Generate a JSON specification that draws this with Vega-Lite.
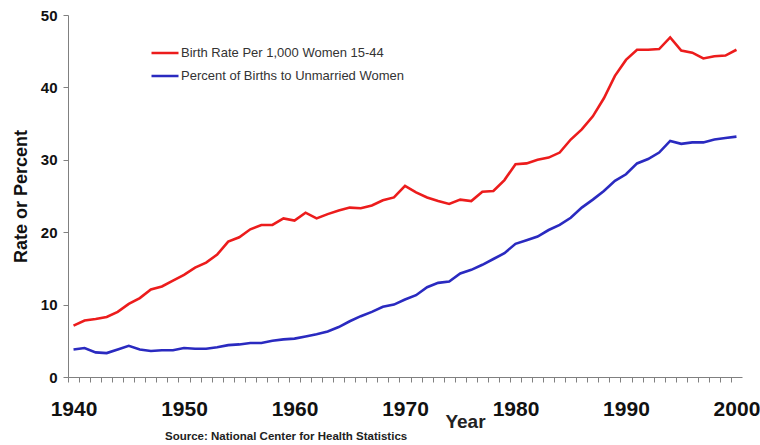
{
  "$schema": "https://vega.github.io/schema/vega-lite/v6.json",
  "autosize": "none",
  "width": 674,
  "height": 362,
  "padding": {"left": 68, "top": 15, "right": 18, "bottom": 68},
  "background": "white",
  "title": {
    "text": "Source: National Center for Health Statistics",
    "orient": "bottom",
    "anchor": "start",
    "frame": "group",
    "font": "Liberation Sans",
    "fontSize": 11.5,
    "fontWeight": "bold",
    "color": "#222222",
    "dx": 97,
    "offset": 0
  },
  "data": {
    "values": [
      {"year": 1940, "rate": 7.1, "pct": 3.8},
      {"year": 1941, "rate": 7.8, "pct": 4.0},
      {"year": 1942, "rate": 8.0, "pct": 3.4},
      {"year": 1943, "rate": 8.3, "pct": 3.3},
      {"year": 1944, "rate": 9.0, "pct": 3.8},
      {"year": 1945, "rate": 10.1, "pct": 4.3},
      {"year": 1946, "rate": 10.9, "pct": 3.8},
      {"year": 1947, "rate": 12.1, "pct": 3.6},
      {"year": 1948, "rate": 12.5, "pct": 3.7},
      {"year": 1949, "rate": 13.3, "pct": 3.7},
      {"year": 1950, "rate": 14.1, "pct": 4.0},
      {"year": 1951, "rate": 15.1, "pct": 3.9},
      {"year": 1952, "rate": 15.8, "pct": 3.9},
      {"year": 1953, "rate": 16.9, "pct": 4.1},
      {"year": 1954, "rate": 18.7, "pct": 4.4},
      {"year": 1955, "rate": 19.3, "pct": 4.5},
      {"year": 1956, "rate": 20.4, "pct": 4.7},
      {"year": 1957, "rate": 21.0, "pct": 4.7},
      {"year": 1958, "rate": 21.0, "pct": 5.0},
      {"year": 1959, "rate": 21.9, "pct": 5.2},
      {"year": 1960, "rate": 21.6, "pct": 5.3},
      {"year": 1961, "rate": 22.7, "pct": 5.6},
      {"year": 1962, "rate": 21.9, "pct": 5.9},
      {"year": 1963, "rate": 22.5, "pct": 6.3},
      {"year": 1964, "rate": 23.0, "pct": 6.9},
      {"year": 1965, "rate": 23.4, "pct": 7.7},
      {"year": 1966, "rate": 23.3, "pct": 8.4},
      {"year": 1967, "rate": 23.7, "pct": 9.0},
      {"year": 1968, "rate": 24.4, "pct": 9.7},
      {"year": 1969, "rate": 24.8, "pct": 10.0},
      {"year": 1970, "rate": 26.4, "pct": 10.7},
      {"year": 1971, "rate": 25.5, "pct": 11.3},
      {"year": 1972, "rate": 24.8, "pct": 12.4},
      {"year": 1973, "rate": 24.3, "pct": 13.0},
      {"year": 1974, "rate": 23.9, "pct": 13.2},
      {"year": 1975, "rate": 24.5, "pct": 14.3},
      {"year": 1976, "rate": 24.3, "pct": 14.8},
      {"year": 1977, "rate": 25.6, "pct": 15.5},
      {"year": 1978, "rate": 25.7, "pct": 16.3},
      {"year": 1979, "rate": 27.2, "pct": 17.1},
      {"year": 1980, "rate": 29.4, "pct": 18.4},
      {"year": 1981, "rate": 29.5, "pct": 18.9},
      {"year": 1982, "rate": 30.0, "pct": 19.4},
      {"year": 1983, "rate": 30.3, "pct": 20.3},
      {"year": 1984, "rate": 31.0, "pct": 21.0},
      {"year": 1985, "rate": 32.8, "pct": 22.0},
      {"year": 1986, "rate": 34.2, "pct": 23.4},
      {"year": 1987, "rate": 36.0, "pct": 24.5},
      {"year": 1988, "rate": 38.5, "pct": 25.7},
      {"year": 1989, "rate": 41.6, "pct": 27.1},
      {"year": 1990, "rate": 43.8, "pct": 28.0},
      {"year": 1991, "rate": 45.2, "pct": 29.5},
      {"year": 1992, "rate": 45.2, "pct": 30.1},
      {"year": 1993, "rate": 45.3, "pct": 31.0},
      {"year": 1994, "rate": 46.9, "pct": 32.6},
      {"year": 1995, "rate": 45.1, "pct": 32.2},
      {"year": 1996, "rate": 44.8, "pct": 32.4},
      {"year": 1997, "rate": 44.0, "pct": 32.4},
      {"year": 1998, "rate": 44.3, "pct": 32.8},
      {"year": 1999, "rate": 44.4, "pct": 33.0},
      {"year": 2000, "rate": 45.2, "pct": 33.2}
    ]
  },
  "transform": [{"fold": ["rate", "pct"], "as": ["series", "value"]}],
  "mark": {"type": "line", "strokeWidth": 2.6, "interpolate": "linear"},
  "encoding": {
    "x": {
      "field": "year",
      "type": "quantitative",
      "scale": {"domain": [1939.5, 2000.5], "nice": false, "zero": false},
      "axis": {
        "values": [1940,1941,1942,1943,1944,1945,1946,1947,1948,1949,1950,1951,1952,1953,1954,1955,1956,1957,1958,1959,1960,1961,1962,1963,1964,1965,1966,1967,1968,1969,1970,1971,1972,1973,1974,1975,1976,1977,1978,1979,1980,1981,1982,1983,1984,1985,1986,1987,1988,1989,1990,1991,1992,1993,1994,1995,1996,1997,1998,1999,2000,2001],
        "tickOffset": -5.52,
        "labelOffset": 5.52,
        "format": "d",
        "labelExpr": "(datum.value % 10 == 0 && datum.value <= 2000) ? datum.label : ''",
        "grid": false,
        "domainColor": "#808080",
        "tickColor": "#808080",
        "tickSize": 5,
        "labelPadding": 16,
        "labelFont": "Liberation Sans",
        "labelFontSize": 21,
        "labelFontWeight": "bold",
        "labelColor": "#111111",
        "labelFlush": false,
        "labelOverlap": false,
        "labelBaseline": "top",
        "title": "Year",
        "titleFont": "Liberation Sans",
        "titleFontSize": 19,
        "titleFontWeight": "bold",
        "titleColor": "#222222",
        "titleX": 397,
        "titleY": 35,
        "titleAlign": "center",
        "titleBaseline": "top"
      }
    },
    "y": {
      "field": "value",
      "type": "quantitative",
      "scale": {"domain": [0, 50], "nice": false},
      "axis": {
        "values": [0, 10, 20, 30, 40, 50],
        "grid": false,
        "domainColor": "#808080",
        "tickColor": "#808080",
        "tickSize": 5,
        "labelPadding": 6,
        "labelFont": "Liberation Sans",
        "labelFontSize": 15,
        "labelFontWeight": "bold",
        "labelColor": "#111111",
        "title": "Rate or Percent",
        "titleFont": "Liberation Sans",
        "titleFontSize": 18,
        "titleFontWeight": "bold",
        "titleColor": "#111111",
        "titleAngle": -90,
        "titleX": -47,
        "titleY": 181,
        "titleAlign": "center",
        "titleBaseline": "middle"
      }
    },
    "color": {
      "field": "series",
      "type": "nominal",
      "scale": {"domain": ["rate", "pct"], "range": ["#ec1c1c", "#2a2ac0"]},
      "legend": {
        "orient": "none",
        "legendX": 82,
        "legendY": 31.5,
        "title": null,
        "padding": 0,
        "symbolType": "stroke",
        "symbolSize": 729,
        "symbolStrokeWidth": 2.5,
        "clipHeight": 13,
        "labelOffset": 1,
        "rowPadding": 9,
        "labelFont": "Liberation Sans",
        "labelFontSize": 13,
        "labelColor": "#333333",
        "labelLimit": 400,
        "labelExpr": "datum.value == 'rate' ? 'Birth Rate Per 1,000 Women 15-44' : 'Percent of Births to Unmarried Women'"
      }
    }
  },
  "config": {"view": {"stroke": null}}
}
